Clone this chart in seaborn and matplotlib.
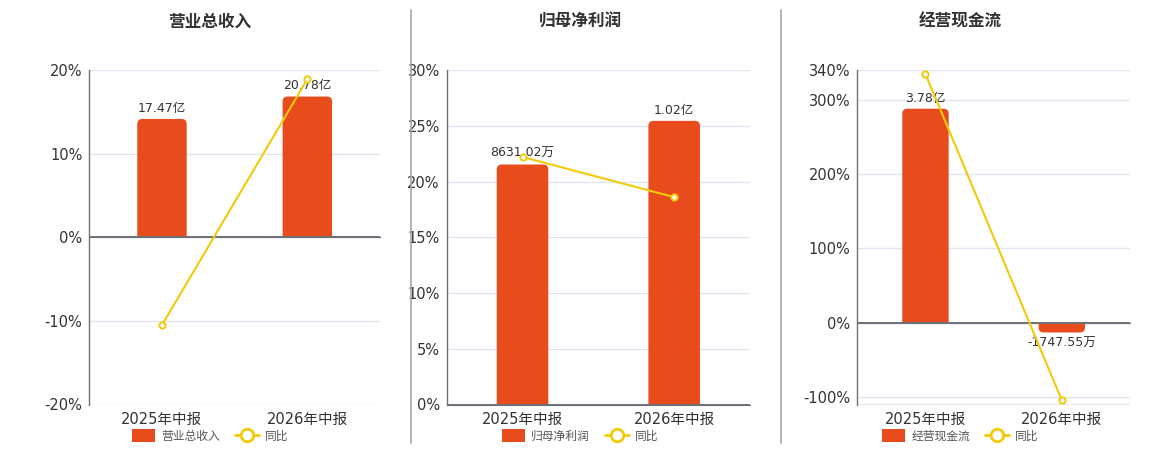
import numpy as np
import matplotlib
matplotlib.use("Agg")
import matplotlib.pyplot as plt
import matplotlib.transforms as mtransforms
from matplotlib.patches import FancyBboxPatch, Rectangle, Patch
from matplotlib.lines import Line2D
import seaborn as sns

# ---------------- data ----------------
categories = ["2025年中报", "2026年中报"]

titles = ["营业总收入", "归母净利润", "经营现金流"]

revenue = [17.47, 20.78]                # 亿
revenue_labels = ["17.47亿", "20.78亿"]
revenue_yoy = [-10.5, 18.9]             # %

profit = [0.863102, 1.02]               # 亿
profit_labels = ["8631.02万", "1.02亿"]
profit_yoy = [22.2, 18.6]

cash = [3.78, -0.174755]                # 亿
cash_labels = ["3.78亿", "-1747.55万"]
cash_yoy = [334.5, -104.3]

yoy_label = "同比"

pct_ticks = [[-20, -10, 0, 10, 20], [0, 5, 10, 15, 20, 25, 30], [-100, 0, 100, 200, 300, 340]]
pct_lims = [(-20, 20), (0, 30), (-110, 340)]
bar_lims = [(-24.7, 24.7), (0, 1.203), (-1.448, 4.464)]

# ---------------- style ----------------
sns.set_style("white")
plt.rcParams["font.family"] = ["DejaVu Sans", "Noto Sans CJK SC"]
plt.rcParams["axes.unicode_minus"] = False

BAR = "#E84B1C"
LINE = "#F2CA0A"
GRID = "#E0E6F1"
AXIS = "#6E7079"
TXT = "#333333"

W, H = 1160, 450
fig = plt.figure(figsize=(W / 100, H / 100), dpi=100)

# axes rectangles in pixels: left, right, top, bottom
rects = [(89.3, 380, 70, 404.5), (446.7, 750, 70, 404.5), (857.3, 1130, 70, 404.5)]
centers = [210, 580, 960]

bars_all = [revenue, profit, cash]
labels_all = [revenue_labels, profit_labels, cash_labels]
yoy_all = [revenue_yoy, profit_yoy, cash_yoy]

for i in range(3):
    l, r, t, b = rects[i]
    ax = fig.add_axes([l / W, 1 - b / H, (r - l) / W, (b - t) / H])
    ax_bar = ax.twinx()
    ax_line = ax.twinx()

    # bars
    sns.barplot(x=categories, y=bars_all[i], ax=ax_bar, color=BAR, saturation=1,
                width=0.34, edgecolor="none")
    ax_bar.set_ylim(*bar_lims[i])
    ax_bar.set_xlim(-0.5, len(categories) - 0.5)
    cont = ax_bar.containers[0]
    ax_bar.bar_label(cont, labels=labels_all[i], padding=3, fontsize=9, color=TXT)

    # line
    sns.lineplot(x=np.arange(len(categories)), y=yoy_all[i], ax=ax_line, color=LINE,
                 lw=1.5, marker="o", markersize=4.5, markerfacecolor="white",
                 markeredgecolor=LINE, markeredgewidth=1.4, zorder=5)
    ax_line.set_ylim(*pct_lims[i])
    ax_line.axhline(0, color=AXIS, lw=1.4, zorder=3)

    # main axis
    ax.set_ylim(*pct_lims[i])
    ax.set_xlim(-0.5, len(categories) - 0.5)
    ax.set_yticks(pct_ticks[i])
    ax.set_yticklabels([f"{v}%" for v in pct_ticks[i]])
    ax.grid(axis="y", color=GRID, lw=1)
    ax.grid(axis="x", visible=False)
    ax.set_axisbelow(True)
    if i == 2:
        ax.axhline(pct_lims[i][0], color=GRID, lw=1.5)
    ax.tick_params(axis="y", length=0, pad=5, labelsize=10.5, labelcolor=TXT)
    ax.set_xticks(np.arange(len(categories) + 1) - 0.5)
    ax.set_xticklabels([""] * (len(categories) + 1))
    ax.tick_params(axis="x", length=5, width=1, color=AXIS, direction="out")
    ax.spines["bottom"].set_position(("data", 0))
    ax.spines["bottom"].set_color(AXIS)
    ax.spines["left"].set_color(AXIS)
    ax.spines["left"].set_linewidth(1)
    ax.spines["top"].set_visible(False)
    ax.spines["right"].set_visible(False)

    trans = mtransforms.blended_transform_factory(ax.transData, ax.transAxes)
    for k, c in enumerate(categories):
        ax.text(k, -0.046, c, transform=trans, ha="center", va="center",
                fontsize=10.5, color=TXT)

    for a in (ax_bar, ax_line):
        a.set_xlabel("")
        a.set_ylabel("")
        a.set_yticks([])
        a.tick_params(axis="both", length=0)
        for s in a.spines.values():
            s.set_visible(False)

    # rounded bar ends: one rounded box extended past zero, clipped at zero
    ppx = (r - l) / (len(categories))
    ppy = (b - t) / (bar_lims[i][1] - bar_lims[i][0])
    for p in list(cont.patches):
        x, y, w, h = p.get_x(), p.get_y(), p.get_width(), p.get_height()
        hh = abs(h)
        rad_px = min(5.0, hh * ppy)
        ext = 8.0 / ppy
        if h >= 0:
            fb = FancyBboxPatch((x, -ext), w, hh + ext,
                                boxstyle=f"round,pad=0,rounding_size={rad_px / ppx}",
                                mutation_aspect=ppx / ppy, fc=BAR, ec="none", zorder=2)
            clip = Rectangle((x - 1, 0), w + 2, hh + 10 * ext, transform=ax_bar.transData)
        else:
            fb = FancyBboxPatch((x, -hh), w, hh + ext,
                                boxstyle=f"round,pad=0,rounding_size={rad_px / ppx}",
                                mutation_aspect=ppx / ppy, fc=BAR, ec="none", zorder=2)
            clip = Rectangle((x - 1, -hh - 10 * ext), w + 2, hh + 10 * ext,
                             transform=ax_bar.transData)
        ax_bar.add_patch(fb)
        fb.set_clip_path(clip)
        p.set_visible(False)

    # title
    fig.text(centers[i] / W, 1 - 22 / H, titles[i], ha="center", va="center",
             fontsize=12, fontweight="bold", color=TXT)

    # legend
    handles = [Patch(facecolor=BAR, edgecolor="none"),
               Line2D([], [], color=LINE, lw=2, marker="o", markersize=9,
                      markerfacecolor="white", markeredgecolor=LINE, markeredgewidth=2)]
    fig.legend(handles, [titles[i], yoy_label], loc="center",
               bbox_to_anchor=(centers[i] / W, 1 - 436 / H), ncol=2, frameon=False,
               fontsize=8.5, handlelength=2.0, handleheight=1.3, handletextpad=0.5,
               columnspacing=1.3, labelcolor="#555555")

# separators
for xs in (410.7, 780.7):
    fig.add_artist(Line2D([xs / W, xs / W], [1 - 10 / H, 1 - 443 / H],
                          transform=fig.transFigure, color="#A8A8A0", lw=1.2))

fig.savefig("out.png", dpi=100)
